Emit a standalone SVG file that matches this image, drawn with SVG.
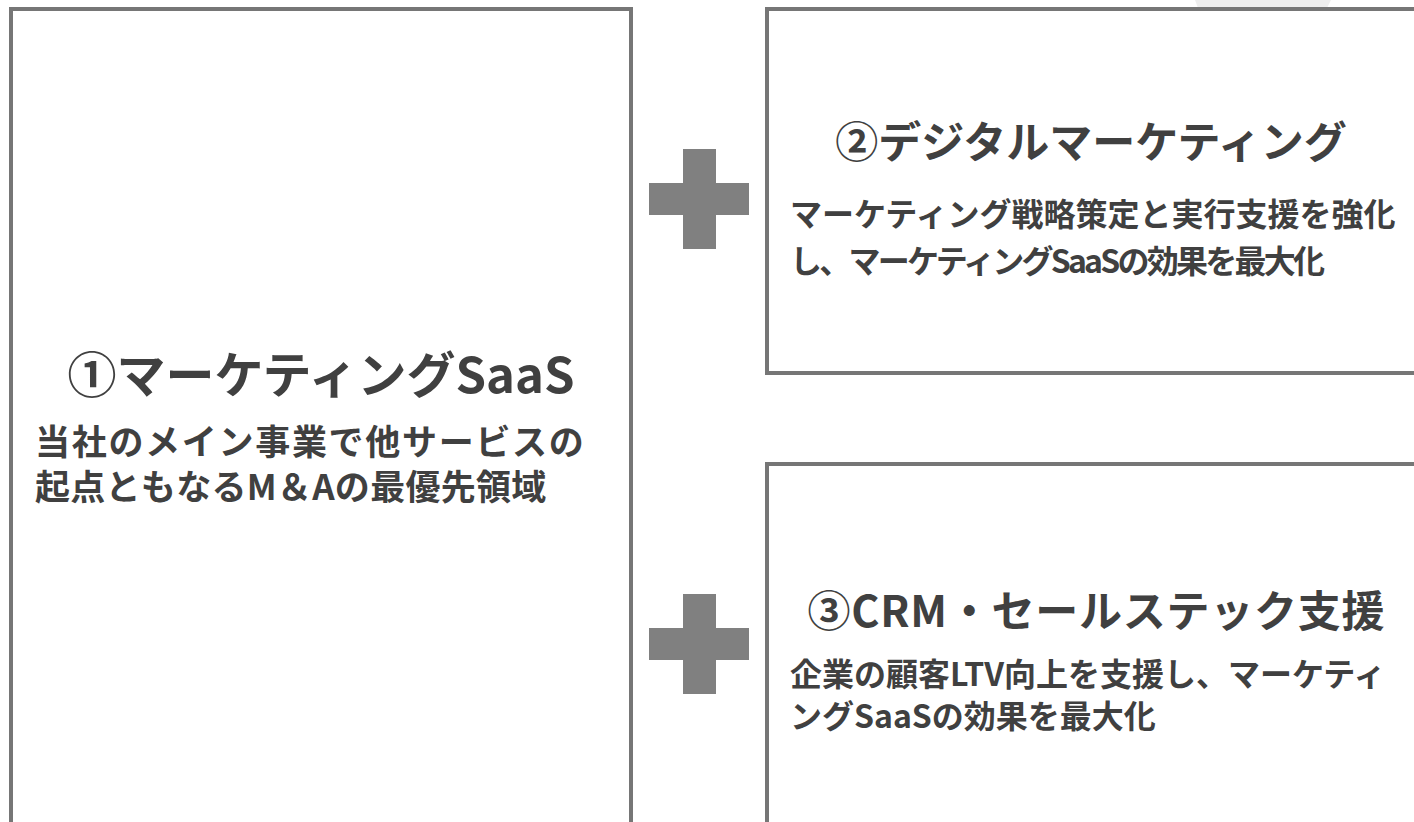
<svg xmlns="http://www.w3.org/2000/svg" width="1414" height="822" viewBox="0 0 1414 822">
<style>
.box{fill:#ffffff;stroke:#767676;stroke-width:4}
.plus{fill:#808080}
text{font-family:"Noto Sans CJK JP","Noto Sans",sans-serif;font-weight:700;fill:#404040}
.t1{font-size:49px}
.s1{font-size:35px;letter-spacing:1.7px}
.t2{font-size:43px}
.b2{font-size:32px}
</style>
<rect width="1414" height="822" fill="#ffffff"/>
<polygon points="1195,0 1331,0 1327,8 1198,8" fill="#eeeeee"/>
<g id="node1">
<rect class="box" x="11" y="9" width="620" height="830"/>
<text class="t1" x="321" y="393" text-anchor="middle">①マーケティングSaaS</text>
<text class="s1" x="35" y="455">当社のメイン事業で他サービスの</text>
<text class="s1" x="35" y="500" textLength="513" lengthAdjust="spacing">起点ともなるM＆Aの最優先領域</text>
</g>
<g id="node2">
<rect class="box" x="767" y="9" width="700" height="364"/>
<text class="t2" x="1091" y="158" text-anchor="middle">②デジタルマーケティング</text>
<text class="b2" x="790" y="226">マーケティング戦略策定と実行支援を強化</text>
<text class="b2" x="790" y="273" textLength="535" lengthAdjust="spacing">し、マーケティングSaaSの効果を最大化</text>
</g>
<g id="node3">
<rect class="box" x="767" y="464" width="700" height="400"/>
<text class="t2" x="1096" y="627" text-anchor="middle" textLength="577" lengthAdjust="spacing">③CRM・セールステック支援</text>
<text class="b2" x="790" y="686">企業の顧客LTV向上を支援し、マーケティ</text>
<text class="b2" x="790" y="728">ングSaaSの効果を最大化</text>
</g>
<g id="connectors">
<path class="plus" d="M683,149h33v34h33v32h-33v34h-33v-34h-34v-32h34z"/>
<path class="plus" d="M683,594h33v34h33v32h-33v34h-33v-34h-34v-32h34z"/>
</g>
</svg>
